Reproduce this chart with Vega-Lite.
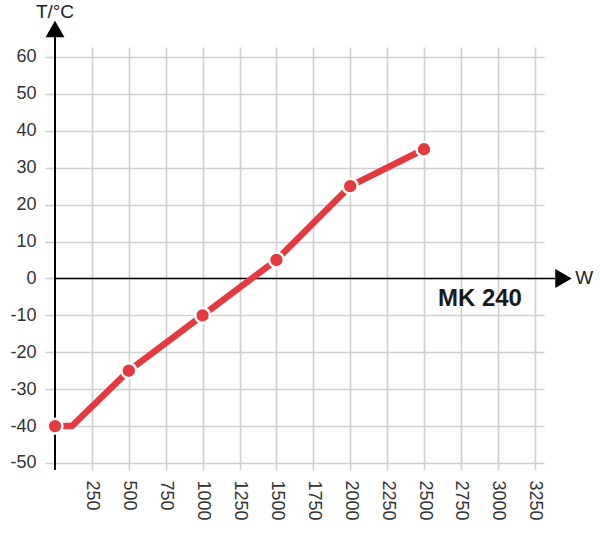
{
  "$schema": "https://vega.github.io/schema/vega-lite/v6.json",
  "autosize": "none",
  "padding": {"left": 55, "top": 47, "right": 56, "bottom": 75},
  "width": 489,
  "height": 423,
  "background": "white",
  "config": {
    "view": {"stroke": null},
    "font": "Liberation Sans",
    "axis": {
      "labelFont": "Liberation Sans",
      "labelFontSize": 18,
      "labelColor": "#333333",
      "gridColor": "#cfcfcf",
      "gridWidth": 1.6,
      "gridOpacity": 1,
      "domain": false,
      "title": null
    }
  },
  "data": {
    "values": [
      {"power": 0, "temp": -40, "marker": true},
      {"power": 115, "temp": -40, "marker": false},
      {"power": 500, "temp": -25, "marker": true},
      {"power": 1000, "temp": -10, "marker": true},
      {"power": 1500, "temp": 5, "marker": true},
      {"power": 2000, "temp": 25, "marker": true},
      {"power": 2500, "temp": 35, "marker": true}
    ]
  },
  "encoding": {
    "x": {
      "field": "power",
      "type": "quantitative",
      "scale": {"domain": [0, 3313], "nice": false, "zero": false},
      "axis": {
        "values": [250, 500, 750, 1000, 1250, 1500, 1750, 2000, 2250, 2500, 2750, 3000, 3250],
        "labelAngle": 90,
        "labelAlign": "left",
        "labelBaseline": "middle",
        "ticks": false,
        "grid": true,
        "labelOverlap": false,
        "labelPadding": 10,
        "labelExpr": "'' + datum.value"
      }
    },
    "y": {
      "field": "temp",
      "type": "quantitative",
      "scale": {"domain": [-51.9, 62.7], "nice": false, "zero": false},
      "axis": {
        "values": [-50, -40, -30, -20, -10, 0, 10, 20, 30, 40, 50, 60],
        "tickSize": 10,
        "tickColor": "#cfcfcf",
        "tickWidth": 1.6,
        "grid": true,
        "labelOverlap": false,
        "labelPadding": 9,
        "labelExpr": "'' + datum.value"
      }
    }
  },
  "layer": [
    {
      "transform": [{"filter": "datum.power == 0"}],
      "mark": {"type": "rule", "color": "black", "strokeWidth": 2},
      "encoding": {
        "x": {"datum": 0, "type": "quantitative"},
        "y": {"datum": -51.9, "type": "quantitative"},
        "y2": {"datum": 65.5}
      }
    },
    {
      "transform": [{"filter": "datum.power == 0"}],
      "mark": {"type": "rule", "color": "black", "strokeWidth": 1.5},
      "encoding": {
        "x": {"datum": 0, "type": "quantitative"},
        "x2": {"datum": 3390},
        "y": {"datum": 0, "type": "quantitative"}
      }
    },
    {
      "transform": [{"filter": "datum.power == 0"}],
      "mark": {"type": "point", "shape": "triangle-up", "filled": true, "color": "black", "size": 360, "opacity": 1},
      "encoding": {
        "x": {"datum": 0, "type": "quantitative"},
        "y": {"datum": 67.6, "type": "quantitative"}
      }
    },
    {
      "transform": [{"filter": "datum.power == 0"}],
      "mark": {"type": "point", "shape": "triangle-right", "filled": true, "color": "black", "size": 360, "opacity": 1},
      "encoding": {
        "x": {"datum": 3445, "type": "quantitative"},
        "y": {"datum": 0, "type": "quantitative"}
      }
    },
    {
      "transform": [{"filter": "datum.power == 0"}],
      "mark": {"type": "text", "text": "T/°C", "fontSize": 19, "fill": "#222222", "align": "center", "baseline": "middle"},
      "encoding": {
        "x": {"datum": 0, "type": "quantitative"},
        "y": {"datum": 72.2, "type": "quantitative"}
      }
    },
    {
      "transform": [{"filter": "datum.power == 0"}],
      "mark": {"type": "text", "text": "W", "fontSize": 19, "fill": "#222222", "align": "left", "baseline": "middle"},
      "encoding": {
        "x": {"datum": 3525, "type": "quantitative"},
        "y": {"datum": 0, "type": "quantitative"}
      }
    },
    {
      "transform": [{"filter": "datum.power == 0"}],
      "mark": {"type": "text", "text": "MK 240", "fontSize": 24, "fontWeight": "bold", "fill": "#1a1a1a", "align": "center", "baseline": "middle"},
      "encoding": {
        "x": {"datum": 2879, "type": "quantitative"},
        "y": {"datum": -5.5, "type": "quantitative"}
      }
    },
    {
      "mark": {"type": "line", "color": "#e43a3f", "strokeWidth": 6.5, "strokeJoin": "miter"}
    },
    {
      "transform": [{"filter": "datum.marker"}],
      "mark": {"type": "point", "filled": true, "color": "#e43a3f", "size": 220, "opacity": 1, "stroke": "white", "strokeWidth": 2.5}
    }
  ]
}
